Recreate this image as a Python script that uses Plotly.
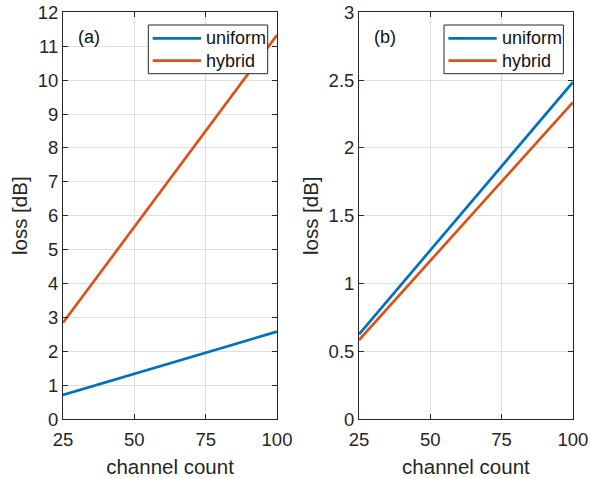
import plotly.graph_objects as go

channels = [25, 50, 75, 100]
uniform_a = [0.71, 1.33, 1.95, 2.58]
hybrid_a = [2.84, 5.66, 8.49, 11.33]
uniform_b = [0.625, 1.245, 1.865, 2.485]
hybrid_b = [0.583, 1.168, 1.752, 2.337]
series_names = ["uniform", "hybrid"]

BLUE = "#0072BD"
ORANGE = "#D95319"
AX = "#262626"
FONT = "Liberation Sans, Arial, Helvetica, sans-serif"
W, H = 590, 478
LW = 2.7

fig = go.Figure()
fig.add_trace(go.Scatter(x=channels, y=uniform_a, mode="lines", name=series_names[0],
                         line=dict(color=BLUE, width=LW), xaxis="x", yaxis="y", showlegend=False))
fig.add_trace(go.Scatter(x=channels, y=hybrid_a, mode="lines", name=series_names[1],
                         line=dict(color=ORANGE, width=LW), xaxis="x", yaxis="y", showlegend=False))
fig.add_trace(go.Scatter(x=channels, y=uniform_b, mode="lines", name=series_names[0],
                         line=dict(color=BLUE, width=LW), xaxis="x2", yaxis="y2", showlegend=False))
fig.add_trace(go.Scatter(x=channels, y=hybrid_b, mode="lines", name=series_names[1],
                         line=dict(color=ORANGE, width=LW), xaxis="x2", yaxis="y2", showlegend=False))

common_axis = dict(
    showline=True, linecolor=AX, linewidth=1, mirror="ticks",
    ticks="inside", ticklen=5, tickcolor=AX, tickwidth=1,
    showgrid=True, gridcolor="#dfdfdf", gridwidth=1, zeroline=False,
    tickfont=dict(family=FONT, size=18.5, color=AX), automargin=False,
)
title_font = dict(family=FONT, size=20.5, color=AX)

xa = dict(common_axis, range=[25, 100], tickvals=[25, 50, 75, 100], ticklabelstandoff=4,
          title=dict(text="channel count", font=title_font, standoff=11))
ya = dict(common_axis, domain=[0.1234, 0.974],
          title=dict(text="loss [dB]", font=title_font, standoff=4))


# boxed legends (MATLAB-style), drawn in paper coordinates
def px(x):
    return x / W


def py(y):
    return 1 - y / H


shapes = []
annotations = []
for left in (148.3, 444.0):
    shapes.append(dict(type="rect", xref="paper", yref="paper",
                       x0=px(left), x1=px(left + 119.4), y0=py(73.7), y1=py(25),
                       line=dict(color=AX, width=1), fillcolor="white", layer="above"))
    for name, color, yc in ((series_names[0], BLUE, 38.3), (series_names[1], ORANGE, 60.7)):
        shapes.append(dict(type="line", xref="paper", yref="paper",
                           x0=px(left + 4.4), x1=px(left + 52.7), y0=py(yc), y1=py(yc),
                           line=dict(color=color, width=LW), layer="above"))
        annotations.append(dict(text=name, x=px(left + 55.5), y=py(yc), xref="paper", yref="paper",
                                xanchor="left", yanchor="middle", showarrow=False,
                                font=dict(family=FONT, size=18, color="#111111")))

annotations += [
    dict(text="(a)", x=px(88.5), y=py(37), xref="paper", yref="paper", showarrow=False,
         xanchor="center", yanchor="middle",
         font=dict(family=FONT, size=18, color="#111111")),
    dict(text="(b)", x=px(384.5), y=py(37), xref="paper", yref="paper", showarrow=False,
         xanchor="center", yanchor="middle",
         font=dict(family=FONT, size=18, color="#111111")),
]

fig.update_layout(
    width=W, height=H, autosize=False,
    margin=dict(l=0, r=0, t=0, b=0, pad=0),
    paper_bgcolor="white", plot_bgcolor="white",
    font=dict(family=FONT, color=AX),
    showlegend=False,
    xaxis=dict(xa, domain=[0.1068, 0.4695], anchor="y"),
    yaxis=dict(ya, range=[0, 12], dtick=1, anchor="x"),
    xaxis2=dict(xa, domain=[0.6085, 0.971], anchor="y2"),
    yaxis2=dict(ya, range=[0, 3], dtick=0.5, anchor="x2"),
    shapes=shapes,
    annotations=annotations,
)

fig.write_html("out.html", config={"displayModeBar": False},
               post_script="document.body.style.margin='0';document.body.style.overflow='hidden';")
